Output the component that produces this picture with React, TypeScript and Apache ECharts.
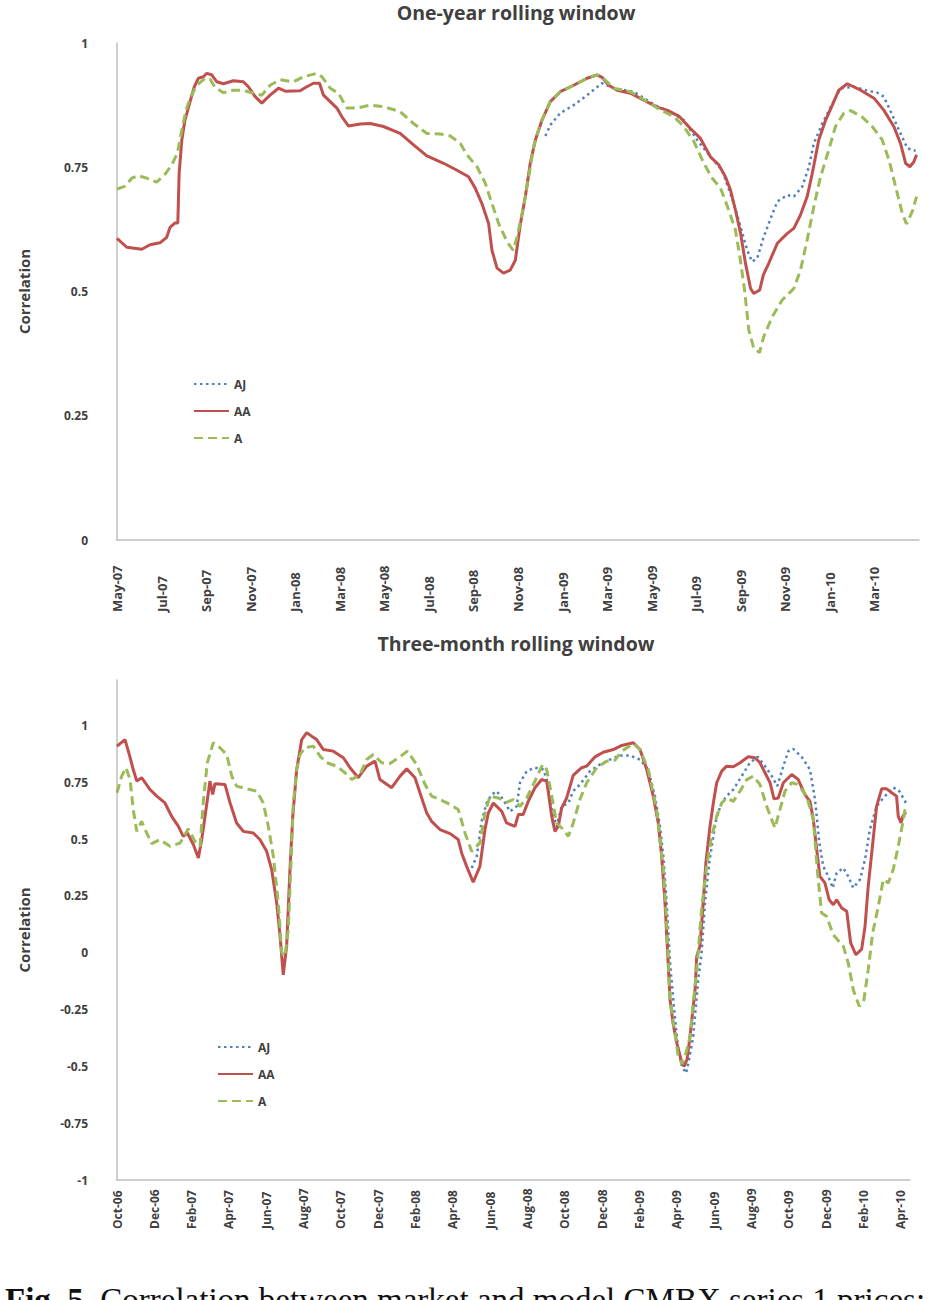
import React, { useEffect, useRef } from "react";
import * as echarts from "echarts";

// Month labels (every second month)
const xLabelsTop = ["May-07","Jul-07","Sep-07","Nov-07","Jan-08","Mar-08","May-08","Jul-08","Sep-08","Nov-08","Jan-09","Mar-09","May-09","Jul-09","Sep-09","Nov-09","Jan-10","Mar-10"];
const xLabelsBottom = ["Oct-06","Dec-06","Feb-07","Apr-07","Jun-07","Aug-07","Oct-07","Dec-07","Feb-08","Apr-08","Jun-08","Aug-08","Oct-08","Dec-08","Feb-09","Apr-09","Jun-09","Aug-09","Oct-09","Dec-09","Feb-10","Apr-10"];

// One-year rolling window: [months since May-07, correlation]
const aj1: [number, number][] = [
  [19.23,0.813],[19.45,0.835],[19.9,0.859],[20.5,0.875],[21.1,0.895],[21.77,0.919],[22.3,0.909],[23.19,0.902],[23.8,0.885],[24.3,0.871],[24.69,0.865],[25.44,0.845],[26.04,0.805],[26.64,0.771],[27.16,0.744],[27.69,0.677],[27.99,0.63],[28.29,0.583],[28.51,0.56],[28.74,0.567],[29.03,0.61],[29.34,0.647],[29.64,0.681],[30.09,0.694],[30.38,0.691],[30.76,0.711],[31.06,0.751],[31.28,0.798],[31.66,0.838],[32.03,0.871],[32.48,0.909],[33.08,0.912],[33.68,0.904],[34.13,0.9],[34.42,0.892],[34.73,0.862],[35.1,0.825],[35.48,0.788],[35.85,0.783]
];
const aa1: [number, number][] = [
  [0,0.607],[0.44,0.589],[1.11,0.585],[1.48,0.594],[1.93,0.598],[2.23,0.609],[2.38,0.629],[2.61,0.638],[2.73,0.638],[2.79,0.738],[2.91,0.805],[3.05,0.845],[3.28,0.882],[3.47,0.912],[3.65,0.929],[3.88,0.932],[4.03,0.939],[4.25,0.936],[4.48,0.922],[4.78,0.918],[5.22,0.924],[5.67,0.922],[5.9,0.912],[6.2,0.892],[6.5,0.879],[6.87,0.895],[7.25,0.909],[7.55,0.903],[8.22,0.904],[8.52,0.912],[8.82,0.919],[9.09,0.919],[9.27,0.895],[9.57,0.882],[9.87,0.869],[10.09,0.852],[10.39,0.833],[10.92,0.837],[11.37,0.838],[11.96,0.832],[12.71,0.818],[13.31,0.795],[13.91,0.773],[14.66,0.758],[15.26,0.744],[15.78,0.731],[16.08,0.708],[16.38,0.677],[16.68,0.637],[16.83,0.583],[17.06,0.547],[17.35,0.537],[17.65,0.543],[17.88,0.563],[18.11,0.637],[18.33,0.691],[18.55,0.758],[18.78,0.805],[19.08,0.845],[19.45,0.882],[19.9,0.902],[20.5,0.915],[21.1,0.929],[21.55,0.936],[21.77,0.931],[22.07,0.915],[22.45,0.905],[23.05,0.899],[23.64,0.885],[24.25,0.871],[24.69,0.865],[25.22,0.853],[25.74,0.828],[26.19,0.808],[26.64,0.771],[27.01,0.755],[27.31,0.731],[27.54,0.704],[27.76,0.664],[27.99,0.617],[28.21,0.557],[28.44,0.506],[28.58,0.496],[28.85,0.503],[29.01,0.533],[29.26,0.557],[29.64,0.597],[30.09,0.617],[30.38,0.627],[30.68,0.654],[30.98,0.691],[31.21,0.738],[31.5,0.805],[31.81,0.845],[32.11,0.875],[32.4,0.905],[32.78,0.918],[33.38,0.905],[33.98,0.889],[34.42,0.865],[34.87,0.832],[35.17,0.798],[35.4,0.758],[35.59,0.751],[35.77,0.761],[35.89,0.775]
];
const a1: [number, number][] = [
  [0,0.706],[0.36,0.712],[0.66,0.728],[0.96,0.733],[1.33,0.728],[1.78,0.72],[2.16,0.736],[2.46,0.755],[2.71,0.778],[2.91,0.825],[3.1,0.865],[3.31,0.892],[3.58,0.915],[3.95,0.929],[4.18,0.927],[4.4,0.911],[4.78,0.9],[5.22,0.905],[5.67,0.905],[6.12,0.899],[6.5,0.895],[6.87,0.915],[7.32,0.926],[7.92,0.922],[8.37,0.932],[8.97,0.939],[9.2,0.932],[9.57,0.909],[9.94,0.899],[10.32,0.869],[10.77,0.869],[11.37,0.875],[11.96,0.872],[12.71,0.862],[13.31,0.838],[13.91,0.818],[14.51,0.817],[14.96,0.813],[15.41,0.798],[15.71,0.775],[16.16,0.751],[16.53,0.718],[16.83,0.677],[17.13,0.637],[17.51,0.6],[17.78,0.583],[17.96,0.61],[18.25,0.671],[18.48,0.731],[18.7,0.791],[19.0,0.838],[19.45,0.882],[19.9,0.902],[20.5,0.915],[21.1,0.929],[21.55,0.936],[21.77,0.931],[22.3,0.909],[23.05,0.902],[23.8,0.882],[24.25,0.869],[24.99,0.852],[25.44,0.832],[25.89,0.802],[26.34,0.758],[26.72,0.728],[27.09,0.708],[27.46,0.664],[27.76,0.624],[27.96,0.57],[28.17,0.503],[28.36,0.423],[28.58,0.386],[28.84,0.377],[29.03,0.409],[29.41,0.449],[29.86,0.483],[30.38,0.506],[30.68,0.543],[30.98,0.604],[31.28,0.671],[31.58,0.731],[31.95,0.785],[32.25,0.832],[32.63,0.859],[32.93,0.864],[33.45,0.851],[33.9,0.832],[34.35,0.805],[34.65,0.765],[34.95,0.711],[35.25,0.657],[35.44,0.636],[35.7,0.661],[35.89,0.691]
];

// Three-month rolling window: [months since Oct-06, correlation]
const aj3: [number, number][] = [
  [19.01,0.373],[19.28,0.424],[19.54,0.578],[19.81,0.659],[20.08,0.696],[20.35,0.711],[20.7,0.674],[21.06,0.622],[21.42,0.644],[21.6,0.748],[21.96,0.799],[22.4,0.814],[22.85,0.806],[23.03,0.762],[23.3,0.63],[23.56,0.556],[23.83,0.644],[24.19,0.659],[24.45,0.711],[24.81,0.74],[25.35,0.799],[25.88,0.828],[26.42,0.85],[26.96,0.868],[27.49,0.868],[28.03,0.85],[28.47,0.806],[28.83,0.689],[29.1,0.556],[29.28,0.424],[29.46,0.219],[29.64,-0.045],[29.86,-0.25],[30.07,-0.42],[30.28,-0.5],[30.5,-0.53],[30.66,-0.47],[30.88,-0.369],[31.15,-0.119],[31.33,0.0],[31.51,0.219],[31.74,0.395],[31.96,0.512],[32.14,0.6],[32.41,0.659],[32.67,0.689],[33.03,0.718],[33.48,0.777],[33.92,0.836],[34.34,0.862],[34.73,0.821],[35.09,0.777],[35.39,0.733],[35.71,0.821],[35.98,0.887],[36.24,0.897],[36.69,0.862],[37.14,0.806],[37.41,0.674],[37.64,0.483],[37.85,0.38],[38.12,0.336],[38.36,0.285],[38.57,0.351],[38.92,0.373],[39.19,0.336],[39.46,0.285],[39.82,0.322],[40.09,0.41],[40.35,0.542],[40.71,0.644],[41.07,0.681],[41.6,0.726],[41.87,0.718],[42.14,0.681],[42.28,0.659]
];
const aa3: [number, number][] = [
  [0,0.909],[0.43,0.938],[0.66,0.872],[0.87,0.806],[1.06,0.755],[1.32,0.77],[1.77,0.718],[2.13,0.689],[2.57,0.659],[2.93,0.6],[3.29,0.556],[3.55,0.512],[3.77,0.527],[4.09,0.476],[4.36,0.417],[4.54,0.498],[4.77,0.63],[4.98,0.755],[5.13,0.696],[5.25,0.744],[5.79,0.74],[6.06,0.659],[6.41,0.571],[6.77,0.534],[7.3,0.527],[7.66,0.498],[8.02,0.446],[8.29,0.366],[8.56,0.219],[8.74,0.072],[8.91,-0.097],[9.09,0.028],[9.27,0.366],[9.42,0.6],[9.63,0.806],[9.9,0.938],[10.17,0.968],[10.43,0.953],[10.7,0.938],[11.06,0.894],[11.59,0.887],[12.13,0.858],[12.49,0.814],[12.93,0.77],[13.38,0.821],[13.83,0.843],[14.09,0.762],[14.72,0.726],[15.17,0.777],[15.53,0.809],[15.97,0.77],[16.33,0.681],[16.6,0.615],[16.86,0.578],[17.31,0.542],[17.85,0.524],[18.29,0.498],[18.47,0.439],[18.74,0.38],[19.09,0.31],[19.45,0.38],[19.72,0.542],[19.9,0.615],[20.17,0.659],[20.62,0.622],[20.88,0.571],[21.33,0.556],[21.51,0.608],[21.77,0.608],[22.04,0.666],[22.4,0.726],[22.76,0.762],[23.03,0.755],[23.3,0.6],[23.47,0.534],[23.65,0.556],[23.83,0.637],[24.1,0.681],[24.45,0.78],[24.9,0.814],[25.17,0.821],[25.62,0.862],[26.06,0.882],[26.6,0.894],[27.05,0.912],[27.67,0.924],[28.03,0.894],[28.39,0.806],[28.74,0.689],[29.01,0.571],[29.19,0.424],[29.37,0.219],[29.54,-0.045],[29.64,-0.207],[29.8,-0.31],[30.01,-0.4],[30.23,-0.47],[30.39,-0.5],[30.55,-0.47],[30.71,-0.369],[30.98,-0.163],[31.07,-0.016],[31.24,0.028],[31.39,0.189],[31.56,0.395],[31.78,0.556],[31.96,0.659],[32.14,0.748],[32.41,0.799],[32.67,0.821],[33.03,0.818],[33.39,0.836],[33.83,0.862],[34.19,0.858],[34.46,0.836],[34.73,0.792],[35.0,0.748],[35.21,0.677],[35.44,0.681],[35.71,0.748],[36.16,0.784],[36.51,0.762],[36.87,0.696],[37.14,0.666],[37.32,0.586],[37.5,0.454],[37.67,0.336],[37.94,0.307],[38.17,0.233],[38.39,0.211],[38.57,0.233],[38.84,0.197],[39.11,0.182],[39.32,0.043],[39.6,-0.009],[39.91,0.016],[40.09,0.116],[40.26,0.292],[40.45,0.439],[40.71,0.644],[40.98,0.721],[41.25,0.721],[41.52,0.704],[41.78,0.689],[41.87,0.6],[42.02,0.571],[42.11,0.6],[42.28,0.618]
];
const a3: [number, number][] = [
  [0,0.704],[0.25,0.777],[0.48,0.814],[0.7,0.762],[0.87,0.63],[1.06,0.534],[1.32,0.578],[1.59,0.527],[1.86,0.48],[2.3,0.498],[2.84,0.468],[3.38,0.483],[3.82,0.545],[4.18,0.49],[4.45,0.468],[4.62,0.659],[4.84,0.836],[5.16,0.924],[5.43,0.909],[5.88,0.872],[6.15,0.777],[6.41,0.733],[6.95,0.721],[7.49,0.711],[7.84,0.659],[8.11,0.556],[8.38,0.424],[8.64,0.219],[8.83,0.0],[9.0,-0.016],[9.18,0.101],[9.31,0.366],[9.45,0.659],[9.63,0.806],[9.81,0.872],[10.08,0.902],[10.52,0.909],[10.88,0.865],[11.24,0.836],[11.77,0.821],[12.22,0.792],[12.58,0.762],[13.02,0.784],[13.38,0.85],[13.74,0.872],[14.19,0.836],[14.63,0.833],[15.17,0.862],[15.56,0.887],[16.06,0.828],[16.51,0.74],[16.86,0.689],[17.31,0.674],[17.85,0.652],[18.29,0.63],[18.65,0.527],[19.01,0.446],[19.45,0.483],[19.72,0.615],[19.99,0.689],[20.43,0.681],[20.88,0.662],[21.24,0.674],[21.6,0.644],[21.96,0.681],[22.4,0.755],[22.81,0.828],[23.03,0.806],[23.3,0.689],[23.56,0.571],[23.92,0.542],[24.19,0.512],[24.45,0.571],[24.81,0.674],[25.17,0.748],[25.71,0.814],[26.24,0.843],[26.69,0.847],[27.05,0.887],[27.67,0.921],[28.03,0.894],[28.47,0.806],[28.92,0.63],[29.28,0.366],[29.46,0.131],[29.64,-0.207],[29.86,-0.33],[30.07,-0.45],[30.28,-0.49],[30.5,-0.44],[30.71,-0.369],[30.88,-0.222],[31.07,-0.075],[31.33,0.189],[31.6,0.38],[31.87,0.512],[32.14,0.6],[32.41,0.659],[32.67,0.681],[33.03,0.666],[33.39,0.711],[33.75,0.762],[34.1,0.777],[34.46,0.74],[34.82,0.644],[35.26,0.549],[35.53,0.63],[35.8,0.711],[36.16,0.748],[36.51,0.74],[36.96,0.689],[37.32,0.586],[37.53,0.366],[37.76,0.175],[38.03,0.16],[38.39,0.079],[38.93,0.028],[39.19,-0.045],[39.46,-0.163],[39.78,-0.236],[40.03,-0.207],[40.26,-0.075],[40.5,0.087],[40.8,0.204],[41.07,0.322],[41.34,0.307],[41.6,0.366],[41.87,0.468],[42.11,0.571],[42.28,0.652]
];

const seriesNames = ["AJ", "AA", "A"];
const colors = { AJ: "#4F81BD", AA: "#C0504D", A: "#9BBB59" };
const txt = "#404040";
const axisGray = "#BFBFBF";
const font = "'Open Sans', 'Liberation Sans', sans-serif";

function makeSeries(idx: number, aj: [number, number][], aa: [number, number][], a: [number, number][]) {
  return [
    { name: "AJ", type: "line", xAxisIndex: idx, yAxisIndex: idx, data: aj, symbol: "none", z: 2,
      lineStyle: { color: colors.AJ, width: 2.5, type: [2.5, 3.5] }, itemStyle: { color: colors.AJ } },
    { name: "AA", type: "line", xAxisIndex: idx, yAxisIndex: idx, data: aa, symbol: "none", z: 3,
      lineStyle: { color: colors.AA, width: 3, type: "solid" }, itemStyle: { color: colors.AA } },
    { name: "A", type: "line", xAxisIndex: idx, yAxisIndex: idx, data: a, symbol: "none", z: 4,
      lineStyle: { color: colors.A, width: 3, type: [9, 5] }, itemStyle: { color: colors.A } },
  ];
}

function xAxis(idx: number, max: number, labels: string[], margin: number, fontSize: number) {
  return {
    type: "value", gridIndex: idx, min: 0, max, interval: 2,
    axisLine: { show: true, onZero: false, lineStyle: { color: axisGray, width: 1.5 } },
    axisTick: { show: false }, splitLine: { show: false },
    axisLabel: {
      rotate: 90, align: "left", margin, color: txt, fontWeight: "bold", fontSize, fontFamily: font,
      showMaxLabel: false,
      formatter: (v: number) => (Number.isInteger(v / 2) && labels[v / 2]) || "",
    },
  };
}

function yAxis(idx: number, min: number, max: number) {
  return {
    type: "value", gridIndex: idx, min, max, interval: 0.25,
    axisLine: { show: true, lineStyle: { color: axisGray, width: 1.5 } },
    axisTick: { show: false }, splitLine: { show: false },
    axisLabel: { margin: 29, color: txt, fontWeight: "bold", fontSize: 12, fontFamily: font, showMaxLabel: max === 1 },
    name: "Correlation", nameLocation: "middle", nameGap: 86,
    nameTextStyle: { fontSize: 15, fontWeight: "bold", color: txt, fontFamily: font },
  };
}

function legend(left: number, top: number) {
  return {
    data: seriesNames, orient: "vertical", left, top, padding: 0,
    itemWidth: 35, itemHeight: 10, itemGap: 15, selectedMode: false,
    itemStyle: { opacity: 0 },
    textStyle: { color: txt, fontWeight: "bold", fontSize: 12, fontFamily: font },
  };
}

export default function App() {
  const ref = useRef<HTMLDivElement>(null);
  useEffect(() => {
    if (!ref.current) return;
    const chart = echarts.init(ref.current, undefined, { renderer: "svg" });
    chart.setOption({
      animation: false,
      backgroundColor: "#ffffff",
      textStyle: { fontFamily: font },
      title: [
        { text: "One-year rolling window", left: 516, top: 2, padding: 0, textAlign: "center",
          textStyle: { fontSize: 19.5, fontWeight: "bold", color: txt, fontFamily: font } },
        { text: "Three-month rolling window", left: 516, top: 633, padding: 0, textAlign: "center",
          textStyle: { fontSize: 19.5, fontWeight: "bold", color: txt, fontFamily: font } },
      ],
      grid: [
        { left: 117, top: 43, width: 802, height: 497 },
        { left: 117, top: 680, width: 793, height: 500 },
      ],
      xAxis: [xAxis(0, 36, xLabelsTop, 72, 13), xAxis(1, 42.5, xLabelsBottom, 49, 12)],
      yAxis: [yAxis(0, 0, 1), yAxis(1, -1, 1.2)],
      legend: [legend(193, 378), legend(217, 1041)],
      series: [...makeSeries(0, aj1, aa1, a1), ...makeSeries(1, aj3, aa3, a3)],
      graphic: [
        {
          type: "text", left: 5, top: 1283,
          style: {
            text: "{b|Fig. 5.} Correlation between market and model CMBX series 1 prices:",
            fontSize: 33, fontFamily: "'Liberation Serif', serif", fill: "#111",
            rich: { b: { fontWeight: "bold", fontSize: 33, fontFamily: "'Liberation Serif', serif", fill: "#111" } },
          },
        },
      ],
    });
    return () => chart.dispose();
  }, []);
  return <div ref={ref} style={{ position: "absolute", left: 0, top: 0, width: 932, height: 1300 }} />;
}
